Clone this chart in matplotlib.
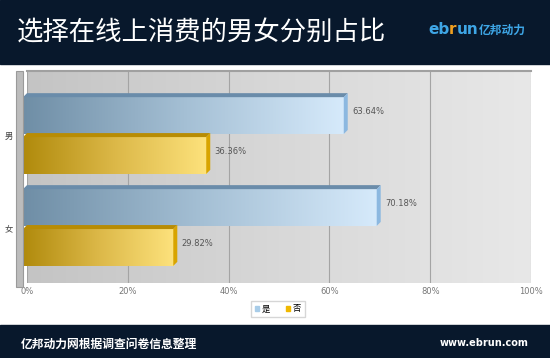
import numpy as np
import matplotlib.pyplot as plt
from matplotlib.patches import Rectangle, Polygon
from matplotlib.colors import LinearSegmentedColormap
from matplotlib.offsetbox import TextArea, HPacker, AnnotationBbox

plt.rcParams['font.family'] = ['Noto Sans CJK SC', 'DejaVu Sans']

# data
title = '选择在线上消费的男女分别占比'
categories = ['男', '女']
series_names = ['是', '否']
yes_values = [63.64, 70.18]
no_values = [36.36, 29.82]
x_ticks = [0, 20, 40, 60, 80, 100]
source_note = '亿邦动力网根据调查问卷信息整理'
site = 'www.ebrun.com'

W, H = 550, 358
fig = plt.figure(figsize=(W / 100, H / 100), dpi=100)
fig.patch.set_facecolor('white')


def px(x0, y0, w, h):
    # rectangle in pixels (from top-left) -> figure fraction
    return [x0 / W, 1 - (y0 + h) / H, w / W, h / H]


navy = '#08182c'
r = px(0, 0, W, 64)
fig.add_artist(Rectangle((r[0], r[1]), r[2], r[3], transform=fig.transFigure, color=navy, zorder=0))
r = px(0, 325, W, 33)
fig.add_artist(Rectangle((r[0], r[1]), r[2], r[3], transform=fig.transFigure, color=navy, zorder=0))

# left 3d wall
r = px(16, 71, 7, 216)
fig.add_artist(Rectangle((r[0], r[1]), r[2], r[3], transform=fig.transFigure,
                         facecolor='#bcbcbc', edgecolor='#9a9a9a', lw=0.8, zorder=1))

ax = fig.add_axes(px(27, 71, 504, 212))

bg = LinearSegmentedColormap.from_list('bg', ['#c4c4c4', '#d8d8d8', '#e8e8e8'])
ax.imshow(np.linspace(0, 1, 256).reshape(1, -1), cmap=bg, extent=[0, 1, 0, 1],
          transform=ax.transAxes, aspect='auto', zorder=0)

ylim = (1.647, -0.658)
ax.set_xlim(0, 100)
ax.set_ylim(*ylim)

# depth of the 3d effect, 4px each way, in data units
dx = 4 * 100 / 504
dy = 4 * (ylim[0] - ylim[1]) / 212

bar_h = 0.40
offsets = [-0.217, 0.217]
grad_maps = [
    LinearSegmentedColormap.from_list('b', ['#6f8ea6', '#a4bfd4', '#d6eafb']),
    LinearSegmentedColormap.from_list('g', ['#b08a0c', '#dcb848', '#fde27c']),
]
top_colors = ['#6a8caa', '#b88c04']
side_colors = ['#8cb8e0', '#d8a400']
legend_colors = ['#a8cce8', '#f0b800']

ramp = np.linspace(0, 1, 256).reshape(1, -1)
for j, vals in enumerate([yes_values, no_values]):
    centers = np.arange(len(categories)) + offsets[j]
    bars = ax.barh(centers + dy, vals, height=bar_h, left=-dx, color='none',
                   linewidth=0, zorder=3, clip_on=False)
    for c, v, patch in zip(centers, vals, bars):
        yt = c + dy - bar_h / 2
        im = ax.imshow(ramp, cmap=grad_maps[j], aspect='auto', zorder=2.5,
                       extent=[-dx, v - dx, yt + bar_h, yt])
        im.set_clip_path(patch)
        ax.add_patch(Polygon([(-dx, yt), (v - dx, yt), (v, yt - dy), (0, yt - dy)],
                             closed=True, color=top_colors[j], lw=0, zorder=3, clip_on=False))
        ax.add_patch(Polygon([(v - dx, yt), (v, yt - dy), (v, yt - dy + bar_h), (v - dx, yt + bar_h)],
                             closed=True, color=side_colors[j], lw=0, zorder=3, clip_on=False))
        ax.annotate(f'{v:.2f}%', xy=(v, c), xytext=(3, 0), textcoords='offset points',
                    va='center', ha='left', fontsize=6, color='#555555', family='DejaVu Sans')

ax.set_xlim(0, 100)
ax.set_ylim(*ylim)

ax.set_xticks(x_ticks)
ax.set_xticklabels([f'{t}%' for t in x_ticks], family='DejaVu Sans')
ax.set_yticks(np.arange(len(categories)) + dy)
ax.set_yticklabels(categories)
ax.tick_params(axis='x', length=0, labelsize=6, labelcolor='#777777', pad=3)
ax.tick_params(axis='y', length=0, labelsize=6, labelcolor='#444444', pad=10)
ax.grid(axis='x', color='#a4a4a4', lw=0.8)
ax.set_axisbelow(True)
for s in ['left', 'right', 'bottom']:
    ax.spines[s].set_visible(False)
ax.spines['top'].set_color('#a0a0a0')
ax.spines['top'].set_linewidth(1.5)

handles = [Rectangle((0, 0), 1, 1, color=c) for c in legend_colors]
fig.legend(handles, series_names, loc='center', bbox_to_anchor=(278 / W, 1 - 309 / H),
           ncol=2, fontsize=6, frameon=True, fancybox=False, edgecolor='#cccccc',
           handlelength=0.5, handleheight=0.5, handletextpad=0.4, columnspacing=1.8,
           borderpad=0.4)

# header
fig.text(17 / W, 1 - 33 / H, title, color='white', fontsize=19, va='center', ha='left')
blue = '#3ea6e6'
parts = [TextArea('eb', textprops=dict(color=blue, fontsize=11, weight='bold', family='DejaVu Sans')),
         TextArea('r', textprops=dict(color='#f0a020', fontsize=11, weight='bold', family='DejaVu Sans')),
         TextArea('un', textprops=dict(color=blue, fontsize=11, weight='bold', family='DejaVu Sans')),
         TextArea('亿邦动力', textprops=dict(color=blue, fontsize=8.5, weight='bold'))]
logo = HPacker(children=parts, align='baseline', pad=0, sep=0)
fig.add_artist(AnnotationBbox(logo, (428 / W, 1 - 29 / H), xycoords='figure fraction',
                              box_alignment=(0, 0.5), frameon=False, pad=0))

# footer
fig.text(21 / W, 1 - 344 / H, source_note, color='white', fontsize=8.5, weight='bold',
         va='center', ha='left')
fig.text(529 / W, 1 - 343 / H, site, color='white', fontsize=7, weight='bold',
         va='center', ha='right', family='DejaVu Sans')

fig.savefig('out.png', dpi=100)
